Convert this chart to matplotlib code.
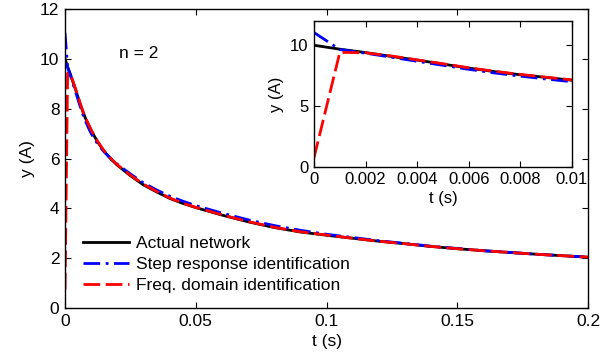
import numpy as np
import matplotlib
matplotlib.use('Agg')
import matplotlib.pyplot as plt

plt.rcParams['font.family'] = ['Liberation Sans', 'DejaVu Sans']

# time samples (s)
t = [0, 0.001, 0.002, 0.003, 0.004, 0.005, 0.006, 0.007, 0.008, 0.009, 0.010,
     0.0125, 0.015, 0.0175, 0.02, 0.025, 0.03, 0.035, 0.04, 0.045, 0.05, 0.055,
     0.06, 0.07, 0.08, 0.09, 0.10, 0.11, 0.12, 0.13, 0.14, 0.15, 0.16, 0.17,
     0.18, 0.19, 0.20]

# actual network
y_actual = [10.0, 9.68, 9.40, 9.08, 8.78, 8.45, 8.12, 7.83, 7.57, 7.35, 7.12,
            6.66, 6.28, 5.98, 5.73, 5.31, 4.94, 4.66, 4.40, 4.20, 4.03, 3.88,
            3.73, 3.46, 3.23, 3.05, 2.92, 2.80, 2.68, 2.58, 2.47, 2.38, 2.30, 2.23,
            2.16, 2.10, 2.04]

# step response identification
y_step = [11.05, 9.65, 9.35, 9.02, 8.68, 8.35, 8.02, 7.72, 7.46, 7.22, 7.00,
          6.58, 6.26, 6.00, 5.77, 5.38, 5.02, 4.74, 4.49, 4.29, 4.11, 3.96,
          3.81, 3.54, 3.31, 3.12, 2.96, 2.83, 2.70, 2.59, 2.48, 2.39, 2.30, 2.23,
          2.16, 2.10, 2.04]

# freq. domain identification
y_freq = [0.75, 9.42, 9.38, 9.12, 8.80, 8.48, 8.15, 7.86, 7.60, 7.37, 7.15,
          6.68, 6.30, 6.00, 5.75, 5.33, 4.97, 4.68, 4.42, 4.21, 4.04, 3.89,
          3.74, 3.47, 3.24, 3.06, 2.93, 2.80, 2.68, 2.58, 2.47, 2.38, 2.30, 2.23,
          2.16, 2.10, 2.04]

main_xticks = [0, 0.05, 0.1, 0.15, 0.2]
main_xlabels = ['0', '0.05', '0.1', '0.15', '0.2']
main_yticks = [0, 2, 4, 6, 8, 10, 12]
ins_xticks = [0, 0.002, 0.004, 0.006, 0.008, 0.01]
ins_xlabels = ['0', '0.002', '0.004', '0.006', '0.008', '0.01']
ins_yticks = [0, 5, 10]


def draw_lines(ax):
    ax.plot(t, y_actual, color='black', lw=2.0, label='Actual network')
    ax.plot(t, y_step, color='#0000ff', lw=2.0, dashes=(6, 2, 1, 2),
            label='Step response identification')
    ax.plot(t, y_freq, color='#ff0000', lw=2.0, dashes=(6, 2),
            label='Freq. domain identification')


def style(ax, fs):
    ax.tick_params(direction='in', top=True, right=True, length=4,
                   width=0.8, labelsize=fs, pad=4)
    for s in ax.spines.values():
        s.set_linewidth(1.0)


fig = plt.figure(figsize=(6.1, 3.56), dpi=100)

ax = fig.add_axes([0.1066, 0.1348, 0.8574, 0.8399])
draw_lines(ax)
ax.set_xlim(0, 0.2)
ax.set_ylim(0, 12)
ax.set_xticks(main_xticks)
ax.set_xticklabels(main_xlabels)
ax.set_yticks(main_yticks)
style(ax, 12.5)
ax.set_xlabel('t (s)', fontsize=12.5, labelpad=4)
ax.set_ylabel('y (A)', fontsize=12.5, labelpad=4)
ax.text(0.0205, 10.2, 'n = 2', fontsize=12.5, va='center', ha='left')
leg = ax.legend(loc='lower left', bbox_to_anchor=(0.012, 0.01), frameon=False,
                fontsize=12.5, handlelength=2.6, handletextpad=0.4,
                labelspacing=0.33, borderaxespad=0.3)

ins = fig.add_axes([0.5148, 0.5317, 0.4229, 0.4093])
draw_lines(ins)
ins.set_xlim(0, 0.01)
ins.set_ylim(0, 12)
ins.set_xticks(ins_xticks)
ins.set_xticklabels(ins_xlabels)
ins.set_yticks(ins_yticks)
style(ins, 12)
ins.set_xlabel('t (s)', fontsize=12, labelpad=3)
ins.set_ylabel('y (A)', fontsize=12, labelpad=4)

fig.savefig('out.png', dpi=100)
